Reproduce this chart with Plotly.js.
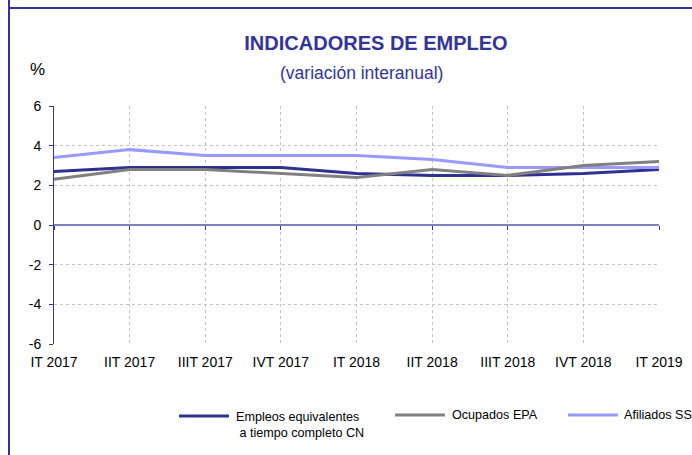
<!DOCTYPE html>
<html>
<head>
<meta charset="utf-8">
<script src="https://cdn.plot.ly/plotly-3.0.1.min.js"></script>
<style>
html,body{margin:0;padding:0;background:#fff;}
#chart{width:692px;height:455px;}
</style>
</head>
<body>
<div id="chart"></div>
<script>
const quarters = ["IT 2017","IIT 2017","IIIT 2017","IVT 2017","IT 2018","IIT 2018","IIIT 2018","IVT 2018","IT 2019"];
const empleosCN = [2.7, 2.9, 2.9, 2.9, 2.6, 2.5, 2.5, 2.6, 2.8];
const ocupadosEPA = [2.3, 2.8, 2.8, 2.6, 2.4, 2.8, 2.5, 3.0, 3.2];
const afiliadosSS = [3.4, 3.8, 3.5, 3.5, 3.5, 3.3, 2.9, 2.9, 2.9];
const seriesNames = ["Empleos equivalentes<br>\u00a0a tiempo completo CN", "Ocupados EPA", "Afiliados SS"];
const seriesColors = ["#2e3192", "#808080", "#9999ff"];
const yTicks = [-6, -4, -2, 0, 2, 4, 6];
const yTickLabels = ["-6", "-4", "-2", "0", "2", "4", "6"];

const W = 692, H = 455;
const mL = 54, mR = 33, mT = 106, mB = 111;
const pw = W - mL - mR, ph = H - mT - mB;
const px = v => (v - mL) / pw;
const py = v => (H - mB - v) / ph;

const font = "Liberation Sans, Arial, sans-serif";
const navy = "#333399";

// Empleos on the base x axis; the others on an overlaid x axis that carries the tick marks at y = 0
const traces = [
  {x: quarters, y: empleosCN, name: seriesNames[0], type: "scatter", mode: "lines",
   line: {color: seriesColors[0], width: 3}, xaxis: "x", yaxis: "y", showlegend: false, hoverinfo: "skip"},
  {x: quarters, y: afiliadosSS, name: seriesNames[2], type: "scatter", mode: "lines",
   line: {color: seriesColors[2], width: 3}, xaxis: "x2", yaxis: "y", showlegend: false, hoverinfo: "skip"},
  {x: quarters, y: ocupadosEPA, name: seriesNames[1], type: "scatter", mode: "lines",
   line: {color: seriesColors[1], width: 3}, xaxis: "x2", yaxis: "y", showlegend: false, hoverinfo: "skip"}
];

// Legend (sample line + label) placed below the plot
const legendPos = [
  {x0: 179, x1: 229, y: 416, tx: 234, ty: 424.5},
  {x0: 395, x1: 445, y: 415, tx: 450, ty: 415},
  {x0: 568, x1: 618, y: 415, tx: 622, ty: 415}
];
const legendShapes = legendPos.map((p, i) => ({
  type: "line", xref: "paper", yref: "paper", x0: px(p.x0), x1: px(p.x1), y0: py(p.y), y1: py(p.y),
  line: {color: seriesColors[i], width: 3}
}));
const legendTexts = legendPos.map((p, i) => ({
  text: seriesNames[i], xref: "paper", yref: "paper", x: px(p.tx), y: py(p.ty),
  xanchor: "left", yanchor: "middle", align: "left", showarrow: false,
  font: {family: font, size: 12.6, color: "#000"}
}));

const layout = {
  width: W, height: H,
  margin: {l: mL, r: mR, t: mT, b: mB, pad: 0},
  paper_bgcolor: "#fff", plot_bgcolor: "#fff",
  showlegend: false,
  font: {family: font, size: 14, color: "#000"},
  title: {text: "<b>INDICADORES DE EMPLEO</b>", font: {family: font, size: 20, color: navy},
    x: 376 / W, xref: "container", xanchor: "center", y: 1 - 43 / H, yref: "container", yanchor: "middle"},
  xaxis: {type: "category", range: [0, 8], showgrid: true, gridcolor: "#c4c4c4", griddash: "dot",
    gridwidth: 1, ticks: "", showline: false, zeroline: false, ticklabelstandoff: 8,
    tickfont: {family: font, size: 14, color: "#000"}, fixedrange: true},
  xaxis2: {type: "category", overlaying: "x", anchor: "free", position: 0.5, range: [0, 8],
    ticks: "outside", ticklen: 4, tickcolor: navy, tickwidth: 1,
    showticklabels: false, showgrid: false, showline: false, zeroline: false, fixedrange: true},
  yaxis: {range: [-6, 6], tickvals: yTicks, ticktext: yTickLabels, showgrid: true, gridcolor: "#c4c4c4",
    griddash: "dot", gridwidth: 1, showline: true, linecolor: navy, linewidth: 1, ticks: "outside",
    ticklen: 4, tickcolor: navy, zeroline: true, zerolinecolor: "#8080c0", zerolinewidth: 2,
    ticklabelstandoff: 5, tickfont: {family: font, size: 14, color: "#000"}, fixedrange: true},
  annotations: [
    {text: "(variación interanual)", xref: "paper", yref: "paper", x: px(361.5), y: py(73),
     xanchor: "center", yanchor: "middle", showarrow: false, font: {family: font, size: 17.5, color: navy}},
    {text: "%", xref: "paper", yref: "paper", x: px(37), y: py(69),
     xanchor: "center", yanchor: "middle", showarrow: false, font: {family: font, size: 17, color: "#000"}}
  ].concat(legendTexts),
  shapes: [
    {type: "line", xref: "paper", yref: "paper", x0: px(9), x1: px(9), y0: py(0), y1: py(H),
     line: {color: navy, width: 2}},
    {type: "line", xref: "paper", yref: "paper", x0: px(8), x1: px(W), y0: py(8), y1: py(8),
     line: {color: navy, width: 2}}
  ].concat(legendShapes)
};

Plotly.newPlot("chart", traces, layout, {displayModeBar: false, staticPlot: true});
</script>
</body>
</html>
